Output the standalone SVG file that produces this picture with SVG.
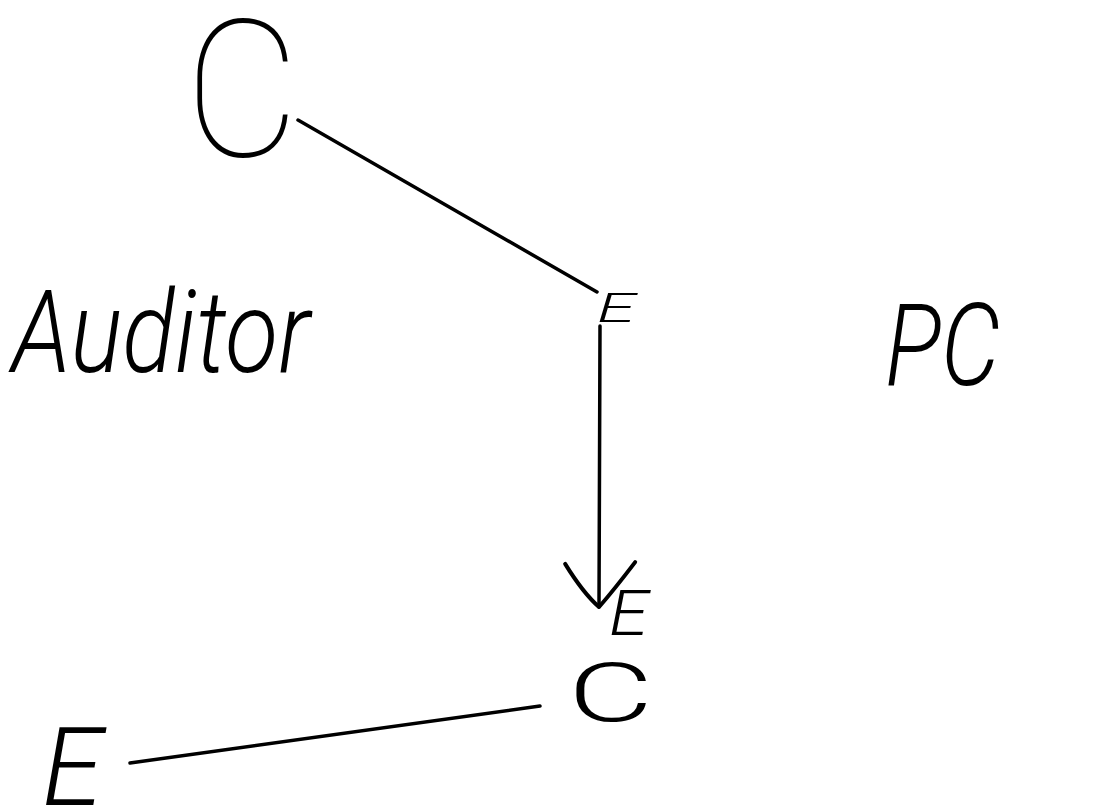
<svg xmlns="http://www.w3.org/2000/svg" width="1109" height="809" viewBox="0 0 1109 809">
<style>
.t{font-family:Roboto,"Liberation Sans",sans-serif;fill:#000}
.i{font-style:italic}
.c{stroke:#000;stroke-width:3.5;fill:none;stroke-linecap:round;stroke-linejoin:round}
</style>
<defs>
<marker id="v" markerUnits="userSpaceOnUse" markerWidth="100" markerHeight="100" refX="0" refY="0" viewBox="-60 -50 70 100" orient="auto" overflow="visible">
<path d="M-45,-36 Q-16,-14 0,0 Q-14,16 -43,34" fill="none" stroke="#000" stroke-width="4" stroke-linecap="round" stroke-linejoin="round"/>
</marker>
</defs>
<rect width="1109" height="809" fill="#fff"/>
<g id="connectors">
<path class="c" d="M298,120 L597,292"/>
<path class="c" d="M600,326 L599,607" marker-end="url(#v)"/>
<path class="c" d="M130,763 L540,706"/>
</g>
<g id="node-c-top"><text class="t" x="185" y="156" font-size="192" font-weight="100" transform="translate(185 0) scale(0.92 1) translate(-185 0)">C</text></g>
<g id="node-e-mid"><text class="t i" x="597" y="322" font-size="41" font-weight="300" transform="translate(597 0) scale(1.7 1) translate(-597 0)">E</text></g>
<g id="node-e-low"><text class="t i" x="609" y="635" font-size="62" font-weight="300" transform="translate(609 0) scale(1.15 1) translate(-609 0)">E</text></g>
<g id="node-c-low"><text class="t" x="568" y="721" font-size="82" font-weight="300" transform="translate(568 0) scale(1.6 1) translate(-568 0)">C</text></g>
<g id="node-e-bottom"><text class="t i" x="42" y="805" font-size="110" font-weight="300">E</text></g>
<g id="label-auditor"><text class="t i" x="12" y="372" font-size="115" font-weight="300" textLength="298" lengthAdjust="spacingAndGlyphs">Auditor</text></g>
<g id="label-pc"><text class="t i" x="885" y="385" font-size="115" font-weight="300" textLength="115" lengthAdjust="spacingAndGlyphs">PC</text></g>
</svg>
